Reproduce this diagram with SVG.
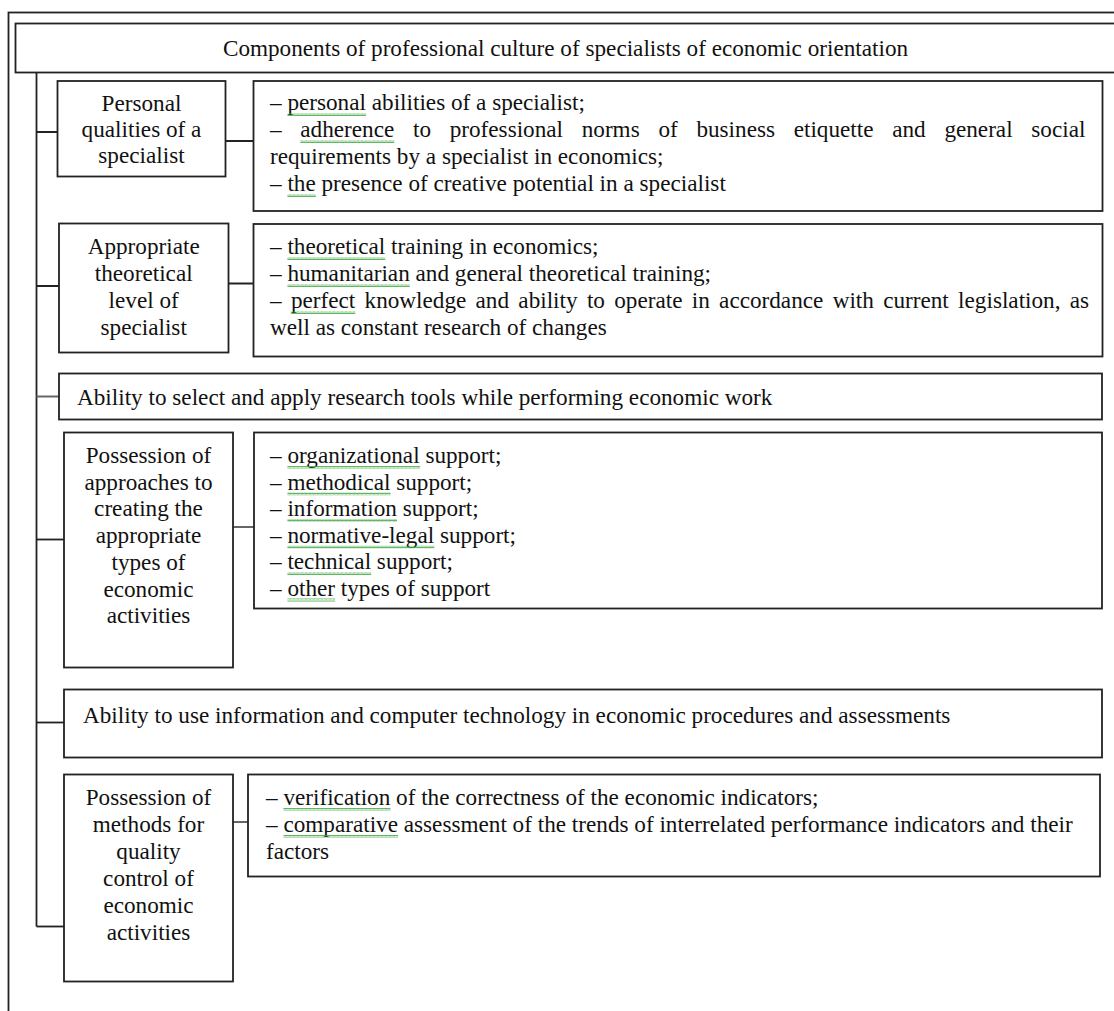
<svg xmlns="http://www.w3.org/2000/svg" width="1114" height="1011" viewBox="0 0 1114 1011">
<style>
.box{fill:#fff;stroke:#222;stroke-width:1.8}
.ln{stroke:#222;stroke-width:1.8;fill:none}
.lg{stroke:#666;stroke-width:2;fill:none}
text{font-family:"Liberation Serif","Times New Roman",serif;font-size:23.2px;fill:#111}
.c{text-anchor:middle}
.sq{fill:url(#wave)}
</style>
<defs>
<pattern id="wave" patternUnits="userSpaceOnUse" width="4" height="3">
<path d="M0 2.5 L1 0.5 L2 2.5 L3 0.5 L4 2.5" stroke="#3aa53a" stroke-width="0.8" fill="none"/>
</pattern>
</defs>
<rect x="0" y="0" width="1114" height="1011" fill="#fff"/>
<g id="frame">
<rect class="box" x="8.5" y="12.5" width="1120" height="1010"/>
</g>
<g id="title">
<rect class="box" x="15.5" y="23.5" width="1110" height="49"/>
<text class="c" x="565.5" y="56">Components of professional culture of specialists of economic orientation</text>
</g>
<g id="connectors">
<path class="ln" d="M36.5 72.5 V926.5"/>
<path class="ln" d="M36.5 132 H57.5 M225.5 141 H253.5"/>
<path class="ln" d="M36.5 286 H59 M228.5 283.5 H253.5"/>
<path class="lg" d="M36.5 396.5 H59"/>
<path class="ln" d="M36.5 539.5 H64"/>
<path class="lg" d="M233 527 H254"/>
<path class="ln" d="M36.5 722.5 H64"/>
<path class="ln" d="M36.5 926.5 H64"/>
<path class="lg" d="M233 822 H248"/>
</g>
<g id="personal-qualities">
<rect class="box" x="57.5" y="81" width="168" height="95.5"/>
<text class="c" x="141.5" y="110.5">Personal</text>
<text class="c" x="141.5" y="136.5">qualities of a</text>
<text class="c" x="141.5" y="162.5">specialist</text>
</g>
<g id="personal-qualities-details">
<rect class="box" x="253.5" y="81" width="849" height="130"/>
<text x="270" y="110">– personal abilities of a specialist;</text>
<text x="270" y="137" word-spacing="12.9">– adherence to professional norms of business etiquette and general social</text>
<text x="270" y="164">requirements by a specialist in economics;</text>
<text x="270" y="191">– the presence of creative potential in a specialist</text>
<rect class="sq" x="287.4" y="113" width="78.6" height="3"/>
<rect class="sq" x="300.3" y="140" width="94" height="3"/>
<rect class="sq" x="287.4" y="194" width="28.4" height="3"/>
</g>
<g id="theoretical-level">
<rect class="box" x="59" y="223.5" width="169.5" height="129"/>
<text class="c" x="143.7" y="254">Appropriate</text>
<text class="c" x="143.7" y="281">theoretical</text>
<text class="c" x="143.7" y="308">level of</text>
<text class="c" x="143.7" y="335">specialist</text>
</g>
<g id="theoretical-level-details">
<rect class="box" x="253.5" y="224" width="849" height="132.5"/>
<text x="270" y="254">– theoretical training in economics;</text>
<text x="270" y="281">– humanitarian and general theoretical training;</text>
<text x="270" y="308" word-spacing="3.5">– perfect knowledge and ability to operate in accordance with current legislation, as</text>
<text x="270" y="335">well as constant research of changes</text>
<rect class="sq" x="287.4" y="257" width="97.9" height="3"/>
<rect class="sq" x="287.4" y="284" width="122.4" height="3"/>
<rect class="sq" x="290.9" y="311" width="64.4" height="3"/>
</g>
<g id="research-tools">
<rect class="box" x="59" y="373.5" width="1043" height="46"/>
<text x="77" y="405">Ability to select and apply research tools while performing economic work</text>
</g>
<g id="approaches">
<rect class="box" x="64" y="432.5" width="169" height="235"/>
<text class="c" x="148.5" y="463">Possession of</text>
<text class="c" x="148.5" y="489.7">approaches to</text>
<text class="c" x="148.5" y="516.4">creating the</text>
<text class="c" x="148.5" y="543">appropriate</text>
<text class="c" x="148.5" y="569.8">types of</text>
<text class="c" x="148.5" y="596.5">economic</text>
<text class="c" x="148.5" y="623.2">activities</text>
</g>
<g id="approaches-details">
<rect class="box" x="254" y="432.5" width="848" height="176"/>
<text x="270" y="463">– organizational support;</text>
<text x="270" y="489.5">– methodical support;</text>
<text x="270" y="516">– information support;</text>
<text x="270" y="542.5">– normative-legal support;</text>
<text x="270" y="569">– technical support;</text>
<text x="270" y="595.5">– other types of support</text>
<rect class="sq" x="287.4" y="466" width="132.7" height="3"/>
<rect class="sq" x="287.4" y="492.5" width="103.1" height="3"/>
<rect class="sq" x="287.4" y="519" width="109.6" height="3"/>
<rect class="sq" x="287.4" y="545.5" width="146.9" height="3"/>
<rect class="sq" x="287.4" y="572" width="83.8" height="3"/>
<rect class="sq" x="287.4" y="598.5" width="47.7" height="3"/>
</g>
<g id="it-use">
<rect class="box" x="64" y="689.5" width="1038" height="68"/>
<text x="83" y="723">Ability to use information and computer technology in economic procedures and assessments</text>
</g>
<g id="quality-control">
<rect class="box" x="64" y="774.5" width="169" height="207"/>
<text class="c" x="148.5" y="805">Possession of</text>
<text class="c" x="148.5" y="832">methods for</text>
<text class="c" x="148.5" y="859">quality</text>
<text class="c" x="148.5" y="886">control of</text>
<text class="c" x="148.5" y="913">economic</text>
<text class="c" x="148.5" y="940">activities</text>
</g>
<g id="quality-control-details">
<rect class="box" x="248" y="774.5" width="852" height="102"/>
<text x="266" y="805">– verification of the correctness of the economic indicators;</text>
<text x="266" y="832">– comparative assessment of the trends of interrelated performance indicators and their</text>
<text x="266" y="859">factors</text>
<rect class="sq" x="283.4" y="808" width="107" height="3"/>
<rect class="sq" x="283.4" y="835" width="114.7" height="3"/>
</g>
</svg>
